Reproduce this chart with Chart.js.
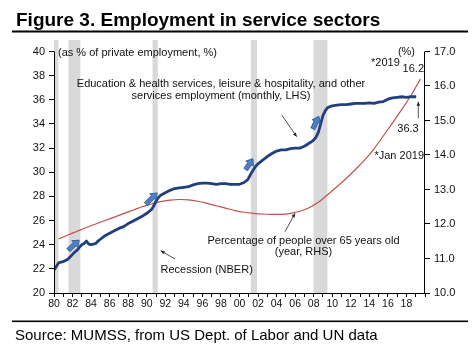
<!DOCTYPE html>
<html><head><meta charset="utf-8">
<script src="https://cdn.jsdelivr.net/npm/chart.js@4.4.1/dist/chart.umd.min.js"></script>
<style>html,body{margin:0;padding:0;background:#fff}#wrap{width:476px;height:356px;position:relative}canvas{display:block}</style>
</head><body><div id="wrap"><canvas id="c" width="476" height="356"></canvas></div>
<script>
// ---- data ----
const serviceYears = [1980.0,1980.25,1980.5,1980.75,1981.0,1981.25,1981.5,1981.75,1982.0,1982.25,1982.5,1982.75,1983.0,1983.25,1983.5,1983.75,1984.0,1984.25,1984.5,1984.75,1985.0,1985.5,1986.0,1986.5,1987.0,1987.5,1988.0,1988.5,1989.0,1989.5,1990.0,1990.5,1990.75,1991.0,1991.25,1991.5,1992.0,1992.5,1993.0,1993.5,1994.0,1994.5,1995.0,1995.5,1996.0,1996.5,1997.0,1997.5,1998.0,1998.5,1999.0,1999.5,2000.0,2000.5,2000.9,2001.25,2001.5,2001.75,2002.0,2002.5,2003.0,2003.5,2004.0,2004.5,2005.0,2005.5,2006.0,2006.5,2007.0,2007.5,2007.9,2008.25,2008.5,2008.75,2009.0,2009.25,2009.5,2010.0,2010.5,2011.0,2011.5,2012.0,2012.5,2013.0,2013.5,2014.0,2014.5,2015.0,2015.5,2016.0,2016.5,2017.0,2017.5,2018.0,2018.5,2019.05];
const serviceShare = [21.9,22.2,22.5,22.55,22.6,22.7,22.8,23.0,23.2,23.4,23.55,23.8,24.0,24.1,24.3,24.05,24.0,24.05,24.1,24.3,24.45,24.75,24.95,25.15,25.35,25.5,25.75,25.95,26.15,26.35,26.6,26.9,27.2,27.6,27.9,28.1,28.3,28.5,28.65,28.7,28.75,28.8,28.95,29.05,29.1,29.1,29.05,29.0,29.05,29.05,29.0,29.0,29.0,29.15,29.4,29.9,30.2,30.5,30.7,31.0,31.3,31.55,31.75,31.85,31.85,31.95,32.0,32.0,32.15,32.4,32.6,32.9,33.3,34.0,34.7,35.1,35.35,35.5,35.55,35.6,35.6,35.65,35.7,35.7,35.7,35.75,35.7,35.8,35.85,36.05,36.15,36.2,36.25,36.2,36.25,36.25];
const over65Years = [1980.5,1981.5,1982.5,1983.5,1984.5,1985.5,1986.5,1987.5,1988.5,1989.5,1990.5,1991.5,1992.5,1993.5,1994.5,1995.5,1996.5,1997.5,1998.5,1999.5,2000.5,2001.5,2002.5,2003.5,2004.5,2005.5,2006.5,2007.5,2008.5,2009.5,2010.5,2011.5,2012.5,2013.5,2014.5,2015.5,2016.5,2017.5,2018.5,2019.5];
const over65Share = [11.57,11.68,11.79,11.9,12.0,12.1,12.2,12.3,12.4,12.5,12.58,12.65,12.69,12.71,12.7,12.66,12.6,12.53,12.46,12.39,12.34,12.31,12.29,12.28,12.28,12.31,12.37,12.47,12.63,12.85,13.08,13.32,13.58,13.86,14.18,14.55,14.93,15.32,15.73,16.2];
const recessionStart = [1980.0,1981.54,1990.6,2001.2,2007.95];
const recessionEnd   = [1980.5,1982.87,1991.2,2001.9,2009.5];
const xTickYears = Array.from({length:41},(_,i)=>1980+i);
const xLabelYears = [1980,1982,1984,1986,1988,1990,1992,1994,1996,1998,2000,2002,2004,2006,2008,2010,2012,2014,2016,2018];
const xTickLabels = ['80','82','84','86','88','90','92','94','96','98','00','02','04','06','08','10','12','14','16','18'];
const leftTicks = [20,22,24,26,28,30,32,34,36,38,40];
const rightTicks = [10,11,12,13,14,15,16,17];
// trend arrows (year, LHS value) start -> end
const trendArrowFrom = [[1981.54,23.55],[1989.9,27.36],[2000.67,30.22],[2007.91,33.6]];
const trendArrowTo   = [[1982.72,24.38],[1991.12,28.29],[2001.45,31.13],[2008.56,34.63]];

const FONT = "'Liberation Sans', Arial, Helvetica, sans-serif";
Chart.defaults.font.family = FONT;
Chart.defaults.color = '#111';

const datasets = [];
datasets.push({type:'line', label:'services', data: serviceYears.map((x,i)=>({x, y: serviceShare[i]})),
  xAxisID:'x', yAxisID:'y', borderColor:'#1f3f7d', borderWidth:2.8, pointRadius:0, tension:0, order:0, borderJoinStyle:'round'});
datasets.push({type:'line', label:'over65', data: over65Years.map((x,i)=>({x, y: over65Share[i]})),
  xAxisID:'x', yAxisID:'y2', borderColor:'#c0504d', borderWidth:1.2, pointRadius:0, tension:0.4, order:1});
recessionStart.forEach((s,i)=>{
  datasets.push({type:'line', label:'rec'+i, data:[{x:s,y:1},{x:recessionEnd[i],y:1}],
    xAxisID:'x', yAxisID:'yRec', fill:'origin', backgroundColor:'#d9d9d9', borderWidth:0, borderColor:'rgba(0,0,0,0)',
    pointRadius:0, order:2});
});

function thinArrow(ctx,x1,y1,x2,y2){
  ctx.save();
  ctx.strokeStyle='#222'; ctx.fillStyle='#222'; ctx.lineWidth=0.8;
  ctx.beginPath(); ctx.moveTo(x1,y1); ctx.lineTo(x2,y2); ctx.stroke();
  const a=Math.atan2(y2-y1,x2-x1), h=4, w=1.8;
  ctx.beginPath();
  ctx.moveTo(x2,y2);
  ctx.lineTo(x2-h*Math.cos(a)+w*Math.sin(a), y2-h*Math.sin(a)-w*Math.cos(a));
  ctx.lineTo(x2-h*Math.cos(a)-w*Math.sin(a), y2-h*Math.sin(a)+w*Math.cos(a));
  ctx.closePath(); ctx.fill();
  ctx.restore();
}
function blockArrow(ctx,x1,y1,x2,y2){
  const a=Math.atan2(y2-y1,x2-x1), L=Math.hypot(x2-x1,y2-y1);
  const sw=2.2, hw=4.6, hl=6;
  ctx.save();
  ctx.translate(x1,y1); ctx.rotate(a);
  ctx.beginPath();
  ctx.moveTo(0,-sw); ctx.lineTo(L-hl,-sw); ctx.lineTo(L-hl,-hw); ctx.lineTo(L,0);
  ctx.lineTo(L-hl,hw); ctx.lineTo(L-hl,sw); ctx.lineTo(0,sw); ctx.closePath();
  ctx.fillStyle='#4f7fc0'; ctx.fill();
  ctx.strokeStyle='#2d5b9a'; ctx.lineWidth=0.8; ctx.stroke();
  ctx.restore();
}

const deco = {
  id:'deco',
  afterDraw(chart){
    const ctx=chart.ctx, ca=chart.chartArea, sx=chart.scales.x, sy=chart.scales.y, sy2=chart.scales.y2;
    ctx.save();
    // axis lines
    ctx.strokeStyle='#000'; ctx.lineWidth=1;
    const lx=Math.round(ca.left)+0.5, rx=Math.round(ca.right)-0.5;
    ctx.beginPath(); ctx.moveTo(lx, sy.getPixelForValue(40)); ctx.lineTo(lx, ca.bottom); ctx.stroke();
    ctx.beginPath(); ctx.moveTo(rx, sy2.getPixelForValue(17)); ctx.lineTo(rx, ca.bottom); ctx.stroke();
    // title + rules + source
    ctx.fillStyle='#000';
    ctx.font="bold 19px "+FONT; ctx.textBaseline='alphabetic'; ctx.textAlign='left';
    ctx.fillText('Figure 3. Employment in service sectors',16,26);
    ctx.fillRect(12,30.5,456,2);
    ctx.fillRect(12,320.5,456,1.6);
    ctx.font="15px "+FONT;
    ctx.fillText('Source: MUMSS, from US Dept. of Labor and UN data',15,340);
    // annotations
    ctx.fillStyle='#111'; ctx.textBaseline='middle';
    ctx.font="11px "+FONT;
    ctx.textAlign='left';
    ctx.fillText('(as % of private employment, %)',58,53);
    ctx.textAlign='right';
    ctx.fillText('(%)',415,52);
    ctx.textAlign='left';
    ctx.fillText('*2019',371,63);
    ctx.textAlign='right';
    ctx.fillText('16.2',424,69);
    ctx.textAlign='center';
    ctx.fillText('36.3',408,129);
    ctx.textAlign='right';
    ctx.fillText('*Jan 2019',424,156);
    ctx.textAlign='center';
    ctx.fillText('Education & health services, leisure & hospitality, and other',221,83.5);
    ctx.fillText('services employment (monthly, LHS)',221,95.5);
    ctx.fillText('Percentage of people over 65 years old',303.5,240.5);
    ctx.fillText('(year, RHS)',303.5,251.5);
    ctx.textAlign='left';
    ctx.fillText('Recession (NBER)',160.5,269.5);
    thinArrow(ctx,281.7,115,296.7,136.7);
    thinArrow(ctx,285,231.7,295,213.3);
    thinArrow(ctx,175,259,160.7,250.7);
    thinArrow(ctx,418.3,118.3,418.3,101.7);
    trendArrowFrom.forEach((p,i)=>{
      const q=trendArrowTo[i];
      blockArrow(ctx, sx.getPixelForValue(p[0]), sy.getPixelForValue(p[1]), sx.getPixelForValue(q[0]), sy.getPixelForValue(q[1]));
    });
    ctx.restore();
  }
};

new Chart(document.getElementById('c'), {
  type:'line',
  data:{datasets},
  options:{
    responsive:false, animation:false, devicePixelRatio:1,
    layout:{padding:{top:40,left:0,right:0,bottom:0}},
    plugins:{legend:{display:false}, tooltip:{enabled:false}},
    scales:{
      x:{type:'linear', min:1980, max:2020,
        afterBuildTicks:(ax)=>{ax.ticks=xTickYears.map(v=>({value:v}));},
        afterFit:(ax)=>{ax.height=63;},
        ticks:{autoSkip:false, maxRotation:0, padding:1, color:'#111', font:{size:10.5},
          callback:(v)=>{const i=xLabelYears.indexOf(v); return i>=0?xTickLabels[i]:'';}},
        grid:{drawOnChartArea:false, tickLength:4, color:'#000', lineWidth:1},
        border:{display:true, color:'#000', width:1}},
      y:{type:'linear', position:'left', min:20, max:40.95,
        afterBuildTicks:(ax)=>{ax.ticks=leftTicks.map(v=>({value:v}));},
        afterFit:(ax)=>{ax.width=54;},
        ticks:{padding:4, color:'#111', font:{size:11}, callback:(v)=>String(v)},
        grid:{drawOnChartArea:false, tickLength:5, color:'#000'},
        border:{display:false}},
      y2:{type:'linear', position:'right', min:10, max:17.333,
        afterBuildTicks:(ax)=>{ax.ticks=rightTicks.map(v=>({value:v}));},
        afterFit:(ax)=>{ax.width=51;},
        ticks:{padding:4, color:'#111', font:{size:11}, callback:(v)=>Number(v).toFixed(1)},
        grid:{drawOnChartArea:false, tickLength:5, color:'#000'},
        border:{display:false}},
      yRec:{type:'linear', display:false, min:0, max:1}
    }
  },
  plugins:[deco]
});
</script></body></html>
